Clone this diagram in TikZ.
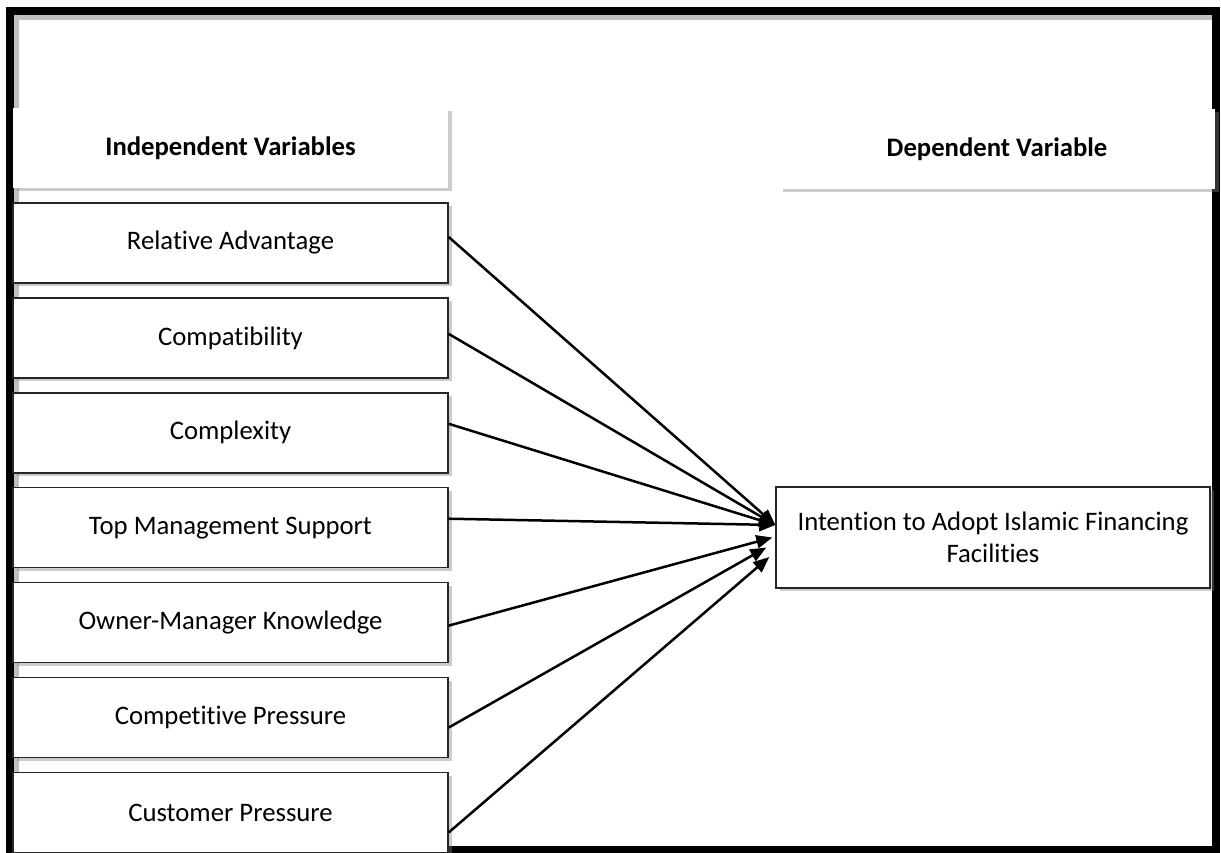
\documentclass[tikz,border=0pt]{standalone}
\usepackage{fontspec}
\setmainfont{Carlito}[Ligatures=NoCommon]
\usetikzlibrary{arrows.meta, shadows, positioning}

\begin{document}
\begin{tikzpicture}[>={Triangle[length=0.32cm,width=0.26cm]},
	varbox/.style={draw=black!85, line width=0.8pt, fill=white, minimum width=8.7cm, minimum height=1.6cm, inner sep=0pt, font=\fontsize{15.2}{18}\selectfont, drop shadow={shadow xshift=0.07cm, shadow yshift=-0.07cm, opacity=0.4}},
	headbox/.style={varbox, draw=none, font=\fontsize{15.2}{18}\selectfont\bfseries},
	link/.style={->, line width=0.05cm}]
		\useasboundingbox (0,0) rectangle (24.42,17.06);
		\draw[black!25, line width=0.1cm] (0.33,0.1) -- (0.33,16.7) -- (24.3,16.7); % frame shadow
		\draw[line width=0.16cm] (0.19,0.05) rectangle (24.32,16.84);

		\node[headbox] (indep) at (4.61,14.1) {Independent Variables};
		\node[headbox, minimum width=8.72cm] (dep) at (19.94,14.08) {Dependent Variable};

		\node[varbox] (reladv) at (4.61,12.2) {Relative Advantage};
		\node[varbox, below=0.27cm of reladv] (compat) {Compatibility};
		\node[varbox, below=0.27cm of compat] (complex) {Complexity};
		\node[varbox, below=0.27cm of complex] (topmgmt) {Top Management Support};
		\node[varbox, below=0.27cm of topmgmt] (ownmgr) {Owner-Manager Knowledge};
		\node[varbox, below=0.27cm of ownmgr] (comppress) {Competitive Pressure};
		\node[varbox, below=0.27cm of comppress] (custpress) {Customer Pressure};

		\node[varbox, minimum width=8.68cm, minimum height=2.02cm, align=center] (intent) at (19.86,6.31) {Intention to Adopt Islamic Financing\\Facilities};

		\draw[link] ([yshift=0.12cm]reladv.east) -- ([yshift=0.25cm]intent.west);
		\draw[link] ([yshift=0.08cm]compat.east) -- ([yshift=0.25cm]intent.west);
		\draw[link] ([yshift=0.18cm]complex.east) -- ([yshift=0.25cm]intent.west);
		\draw[link] ([yshift=0.18cm]topmgmt.east) -- ([yshift=0.25cm]intent.west);
		\draw[link] ([yshift=-0.06cm]ownmgr.east) -- ([xshift=-0.06cm]intent.west);
		\draw[link] ([yshift=-0.2cm]comppress.east) -- ([xshift=-0.18cm,yshift=-0.2cm]intent.west);
		\draw[link] ([yshift=-0.4cm]custpress.east) -- ([xshift=-0.12cm,yshift=-0.39cm]intent.west);
\end{tikzpicture}
\end{document}
